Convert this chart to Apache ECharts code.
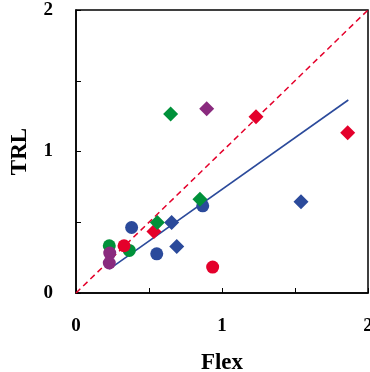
<!DOCTYPE html>
<html><head><meta charset="utf-8">
<script src="https://cdn.jsdelivr.net/npm/echarts@6/dist/echarts.min.js"></script>
<style>html,body{margin:0;padding:0;background:#fff}#c{width:370px;height:372px}</style>
</head><body><div id="c"></div>
<script>
const xTicks = [0, 0.5, 1, 1.5, 2];
const yTicks = [0, 0.5, 1, 1.5, 2];
const blueCircles = [[0.381,0.463],[0.553,0.277],[0.868,0.616]];
const redCircles = [[0.329,0.334],[0.936,0.183]];
const greenCircles = [[0.228,0.334],[0.365,0.301]];
const purpleCircles = [[0.231,0.282],[0.228,0.212]];
const blueDiamonds = [[0.655,0.498],[0.690,0.329],[1.541,0.644]];
const redDiamonds = [[0.534,0.435],[1.233,1.246],[1.861,1.133]];
const greenDiamonds = [[0.648,1.265],[0.557,0.498],[0.849,0.663]];
const purpleDiamonds = [[0.895,1.303]];
const fitLine = [[0.228,0.169],[1.865,1.364]];
const identityLine = [[0,0],[2,2]];

const BLUE='#2B4A9B', RED='#E4002B', GREEN='#00913A', PURPLE='#8A2A7E';
const font = {fontFamily:'Liberation Serif', fontWeight:'bold', color:'#000'};
function sc(data,color,symbol,size){return {type:'scatter',data,symbol,symbolSize:size,itemStyle:{color,opacity:1},z:3};}
const chart = echarts.init(document.getElementById('c'));
chart.setOption({
  animation:false,
  grid:{left:76,right:2,top:10,bottom:79,outerBoundsMode:'none',containLabel:false,show:true,borderColor:'#000',borderWidth:1.5,backgroundColor:'transparent'},
  xAxis:{type:'value',min:xTicks[0],max:xTicks[xTicks.length-1],interval:0.5,
    name:'Flex',nameLocation:'middle',nameGap:59,nameTextStyle:Object.assign({fontSize:23},font),
    axisLine:{lineStyle:{color:'#000',width:1.5}},
    axisTick:{inside:true,length:5,lineStyle:{color:'#000',width:1}},
    axisLabel:Object.assign({fontSize:19,margin:24,formatter:v=>Number.isInteger(v)?String(v):''},font),
    splitLine:{show:false}},
  yAxis:{type:'value',min:yTicks[0],max:yTicks[yTicks.length-1],interval:0.5,
    name:'TRL',nameLocation:'middle',nameGap:44,nameTextStyle:Object.assign({fontSize:23},font),
    axisLine:{lineStyle:{color:'#000',width:1.5}},
    axisTick:{inside:true,length:5,lineStyle:{color:'#000',width:1}},
    axisLabel:Object.assign({fontSize:19,margin:23,formatter:v=>Number.isInteger(v)?String(v):''},font),
    splitLine:{show:false}},
  series:[
    {type:'line',data:identityLine,symbol:'none',lineStyle:{color:RED,width:1.5,type:[6,4]},z:2},
    {type:'line',data:fitLine,symbol:'none',lineStyle:{color:BLUE,width:1.6},z:2},
    sc(greenCircles,GREEN,'circle',13),
    sc(purpleCircles,PURPLE,'circle',13),
    sc(blueCircles,BLUE,'circle',13),
    sc(redCircles,RED,'circle',13),
    sc(blueDiamonds,BLUE,'diamond',15),
    sc(redDiamonds,RED,'diamond',15),
    sc(greenDiamonds,GREEN,'diamond',15),
    sc(purpleDiamonds,PURPLE,'diamond',15)
  ]
});
</script></body></html>
